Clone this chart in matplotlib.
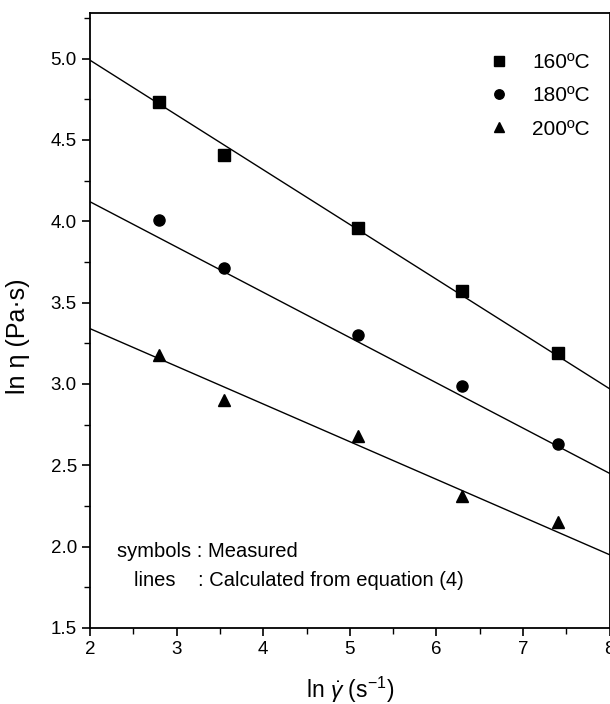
import numpy as np
import matplotlib.pyplot as plt

plt.rcParams['font.family'] = ['Liberation Sans', 'DejaVu Sans']
plt.rcParams['mathtext.fontset'] = 'custom'
plt.rcParams['mathtext.rm'] = 'Liberation Sans'
plt.rcParams['mathtext.it'] = 'Liberation Sans:italic'

# measured points
shear = [2.80, 3.55, 5.10, 6.30, 7.40]
eta_160 = [4.73, 4.41, 3.96, 3.57, 3.19]
eta_180 = [4.01, 3.71, 3.30, 2.99, 2.63]
eta_200 = [3.18, 2.90, 2.68, 2.31, 2.15]

# calculated lines (end values at x = 2 and x = 8)
line_x = [2, 8]
line_160 = [4.99, 2.97]
line_180 = [4.12, 2.45]
line_200 = [3.34, 1.95]

fig = plt.figure(figsize=(6.10, 7.04), dpi=100)
ax = fig.add_axes([0.1475, 0.108, 0.852, 0.8735])

ax.plot(line_x, line_160, color='black', lw=1.0)
ax.plot(line_x, line_180, color='black', lw=1.0)
ax.plot(line_x, line_200, color='black', lw=1.0)

ax.plot(shear, eta_160, 's', color='black', ms=8, label='160ºC')
ax.plot(shear, eta_180, 'o', color='black', ms=8, label='180ºC')
ax.plot(shear, eta_200, '^', color='black', ms=9, label='200ºC')

ax.set_xlim(2, 8)
ax.set_ylim(1.5, 5.28)
ax.set_xticks(np.arange(2, 9, 1))
ax.set_xticks(np.arange(2.5, 8, 1), minor=True)
ax.set_yticks(np.arange(1.5, 5.01, 0.5))
ax.set_yticks(np.arange(1.75, 5.3, 0.5), minor=True)
ax.set_yticklabels(['%.1f' % v for v in np.arange(1.5, 5.01, 0.5)])
ax.tick_params(which='major', direction='out', length=6, width=1.2, labelsize=13.5)
ax.tick_params(which='minor', direction='out', length=4, width=1.0)
for s in ax.spines.values():
    s.set_linewidth(1.3)

ax.set_xlabel(r'ln $\dot{\gamma}$ (s$^{-1}$)', fontsize=16.5, labelpad=12)
ax.set_ylabel('ln η (Pa·s)', fontsize=18)
ax.yaxis.set_label_coords(-0.115, 0.475)

ax.legend(loc='upper left', bbox_to_anchor=(0.71, 0.965), frameon=False,
          fontsize=15, handletextpad=0.6, labelspacing=0.68, numpoints=1,
          markerscale=0.85)

ax.text(0.052, 0.124, 'symbols : Measured', transform=ax.transAxes,
        fontsize=14.5, va='center')
ax.text(0.085, 0.078, 'lines    : Calculated from equation (4)', transform=ax.transAxes,
        fontsize=14.5, va='center')

fig.savefig('out.png', dpi=100)
